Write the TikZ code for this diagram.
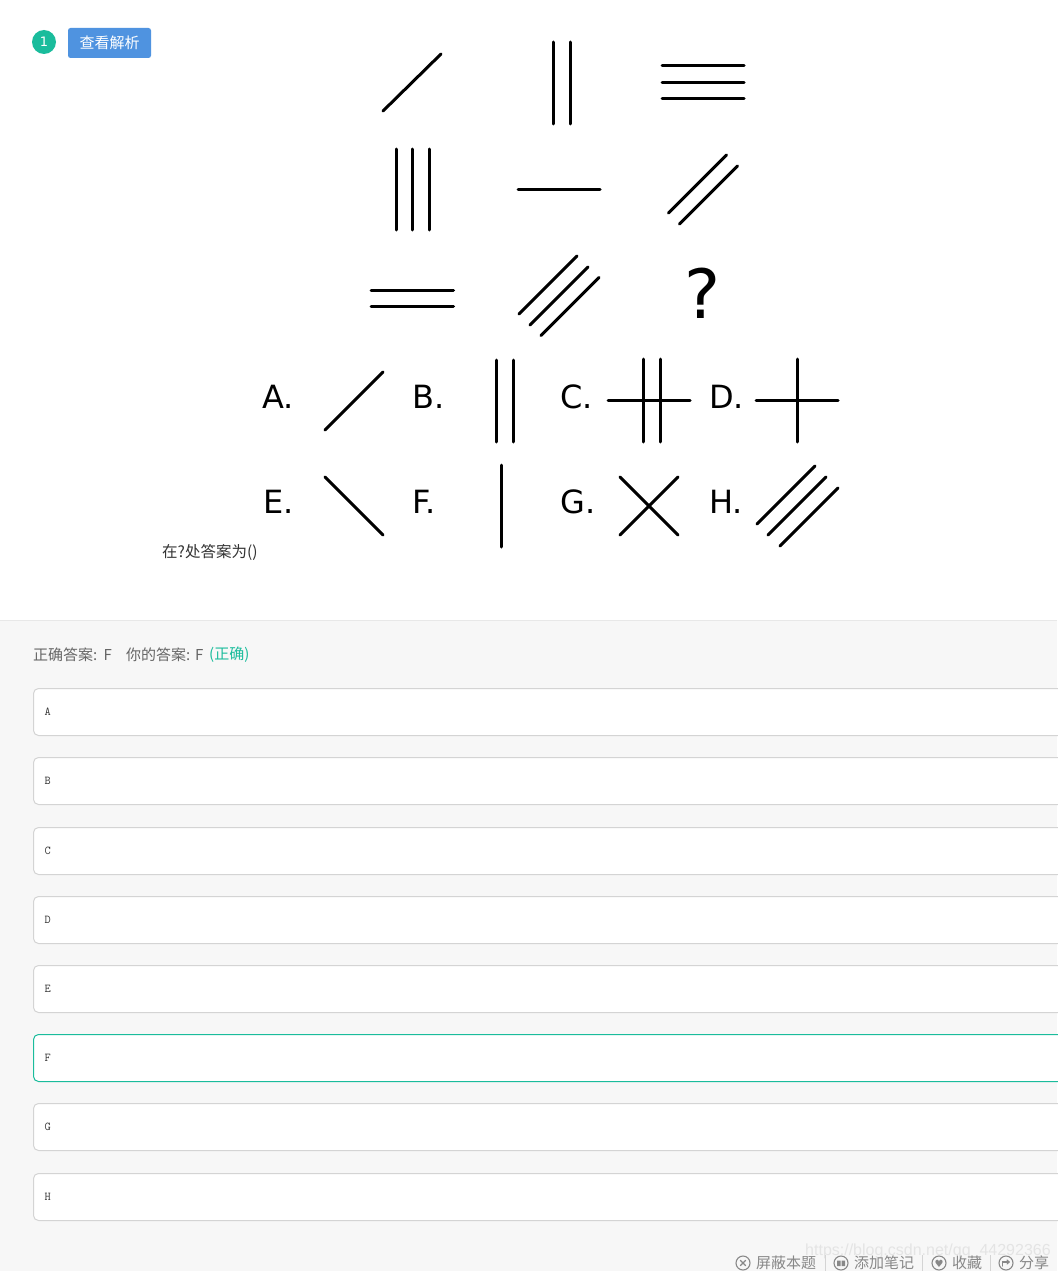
\documentclass[tikz,border=0pt]{standalone}
\usepackage{fontspec}
\usetikzlibrary{calc}
\setmainfont{DejaVu Sans}
\newfontfamily\cjk{Noto Sans CJK SC}
\newfontfamily\wmfont{Liberation Sans}
\definecolor{tealc}{HTML}{1ABC9C}
\definecolor{btnblue}{HTML}{4F93E0}
\definecolor{bggray}{HTML}{F7F7F7}
\definecolor{sepgray}{HTML}{E8E8E8}
\definecolor{boxborder}{HTML}{D4D4D4}
\definecolor{txtgray}{HTML}{666666}
\definecolor{toolgray}{HTML}{888888}
\definecolor{darktxt}{HTML}{333333}
\definecolor{wmgray}{HTML}{E4E4E4}
\begin{document}
\begin{tikzpicture}[x=1pt,y=-1pt,
  fig/.style={line width=3pt, line cap=round},
  lab/.style={anchor=base west, inner sep=0pt, font=\fontsize{32}{36}\selectfont},
  optbox/.style={draw=boxborder, fill=white, rounded corners=5pt, line width=1pt, anchor=north west, minimum width=1050pt, minimum height=47pt, inner sep=0pt},
  optlab/.style={anchor=west, inner sep=0pt, text=darktxt, font=\ttfamily\fontsize{12}{14}\selectfont},
  anstxt/.style={anchor=west, inner sep=0pt, text=txtgray, font=\cjk\fontsize{15}{18}\selectfont},
  toolicon/.style={circle, draw=toolgray, line width=1.1pt, minimum size=14pt, inner sep=0pt},
  tooltxt/.style={anchor=west, inner sep=0pt, text=toolgray, font=\cjk\fontsize{15}{18}\selectfont},
  toolsep/.style={draw=boxborder, line width=0.8pt}]
\useasboundingbox (0,0) rectangle (1057,1271);
\fill[white] (0,0) rectangle (1057,620);
\fill[bggray] (0,620) rectangle (1057,1271);
\draw[sepgray, line width=1pt] (0,620.5) -- (1057,620.5);

% header
\node[circle, fill=tealc, minimum size=24pt, inner sep=0pt, text=white, font=\fontsize{13}{13}\selectfont] (badge) at (44,42) {1};
\node[fill=btnblue, rounded corners=2.5pt, minimum width=83pt, minimum height=30pt, inner sep=0pt, text=white, font=\cjk\fontsize{15}{15}\selectfont] (btn) at (109.5,43) {查看解析};

% row 1
\draw[fig] (383,111) -- (441,54);
\draw[fig] (553,42) -- (553,124);
\draw[fig] (570,42) -- (570,124);
\draw[fig] (662,66) -- (744,66);
\draw[fig] (662,82.5) -- (744,82.5);
\draw[fig] (662,99) -- (744,99);
% row 2
\draw[fig] (396,149) -- (396,230);
\draw[fig] (412.5,149) -- (412.5,230);
\draw[fig] (429,149) -- (429,230);
\draw[fig] (518,189) -- (600,189);
\draw[fig] (668.5,213) -- (726.5,155);
\draw[fig] (679.5,224) -- (737.5,166);
% row 3
\draw[fig] (371,290) -- (453.5,290);
\draw[fig] (371,306.5) -- (453.5,306.5);
\draw[fig] (519,314) -- (577,256);
\draw[fig] (530,325) -- (588,267);
\draw[fig] (541,335.5) -- (599,277.5);
\node[inner sep=0pt, anchor=base, font=\fontsize{68}{72}\selectfont] (qm) at (703,318) {?};

% options
\node[lab] (la) at (262,408) {A.};
\draw[fig] (325,430) -- (383,372);
\node[lab] (lb) at (412,408) {B.};
\draw[fig] (496,360) -- (496,442);
\draw[fig] (513,360) -- (513,442);
\node[lab] (lc) at (560,408) {C.};
\draw[fig] (608,400.5) -- (690,400.5);
\draw[fig] (643,359) -- (643,442);
\draw[fig] (660,359) -- (660,442);
\node[lab] (ld) at (709,408) {D.};
\draw[fig] (756,400.5) -- (838,400.5);
\draw[fig] (797,359) -- (797,442);
\node[lab] (le) at (263,513) {E.};
\draw[fig] (325,477) -- (383,535);
\node[lab] (lf) at (412,513) {F.};
\draw[fig] (501,465) -- (501,547);
\node[lab] (lg) at (560,513) {G.};
\draw[fig] (620,477) -- (678,535);
\draw[fig] (620,535) -- (678,477);
\node[lab] (lh) at (709,513) {H.};
\draw[fig] (757,524) -- (815,466);
\draw[fig] (768,535) -- (826,477);
\draw[fig] (780,546) -- (838,488);

\node[anchor=west, inner sep=0pt, text=darktxt, font=\cjk\fontsize{15.5}{18}\selectfont] (prompt) at (162,552) {在?处答案为()};

% answer line
\node[anstxt] (ans1) at (33,655) {正确答案:};
\node[anstxt] (ans1v) at (103.5,655) {F};
\node[anstxt] (ans2) at (126,655) {你的答案:};
\node[anstxt] (ans2v) at (195,655) {F};
\node[anstxt, text=tealc] (ans3) at (209,655) {(正确)};

% option boxes
\foreach \L/\Y in {A/688,B/757,C/827,D/896,E/965,G/1103,H/1173}{
  \node[optbox] (box\L) at (33,\Y) {};
  \node[optlab] (opt\L) at (44.5,\Y+23.5) {\L};
}
\node[optbox, draw=tealc] (boxF) at (33,1034) {};
\node[optlab] (optF) at (44.5,1057.5) {F};

% watermark
\node[anchor=west, inner sep=0pt, text=wmgray, font=\wmfont\fontsize{16}{18}\selectfont] (wm) at (805,1251) {https://blog.csdn.net/qq\_44292366};

% toolbar
\node[toolicon] (i1) at (743,1263) {};
\draw[toolgray, line width=1.1pt] ($(i1)+(-2.8,-2.8)$) -- ($(i1)+(2.8,2.8)$) ($(i1)+(-2.8,2.8)$) -- ($(i1)+(2.8,-2.8)$);
\node[tooltxt] (t1) at (756,1263) {屏蔽本题};
\draw[toolsep] (825,1255) -- (825,1271);
\node[toolicon] (i2) at (841,1263) {};
\fill[toolgray] ($(i2)+(-4,-2.5)$) rectangle ($(i2)+(-0.5,3)$) ($(i2)+(0.5,-2.5)$) rectangle ($(i2)+(4,3)$);
\node[tooltxt] (t2) at (854,1263) {添加笔记};
\draw[toolsep] (922,1255) -- (922,1271);
\node[toolicon] (i3) at (939,1263) {};
\node[inner sep=0pt, text=toolgray, font=\fontsize{10}{10}\selectfont] (h3) at (939,1263.5) {♥};
\node[tooltxt] (t3) at (952,1263) {收藏};
\draw[toolsep] (990,1255) -- (990,1271);
\node[toolicon] (i4) at (1006,1263) {};
\draw[toolgray, line width=1.1pt, line cap=round] ($(i4)+(-3.5,3)$) -- ($(i4)+(-3.5,-1)$) -- ($(i4)+(3,-1)$);
\draw[toolgray, line width=1.1pt, line cap=round] ($(i4)+(1,-3)$) -- ($(i4)+(3,-1)$) -- ($(i4)+(1,1)$);
\node[tooltxt] (t4) at (1019,1263) {分享};
\end{tikzpicture}
\end{document}
